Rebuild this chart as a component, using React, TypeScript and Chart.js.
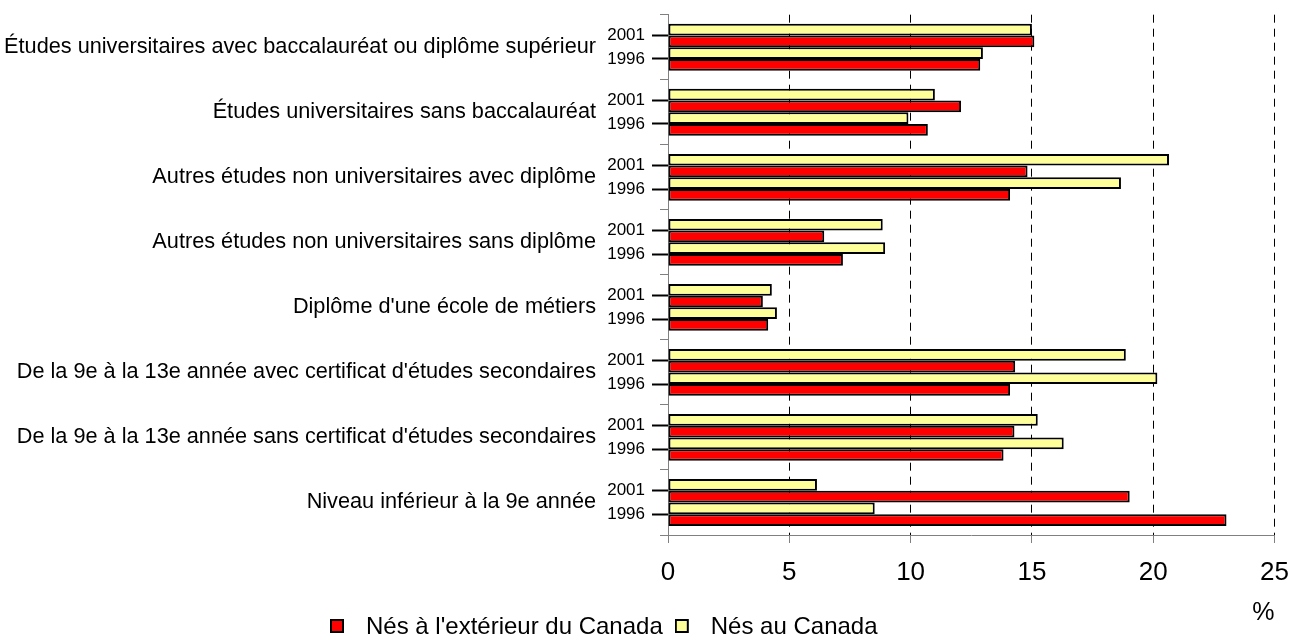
import React, { useEffect, useRef } from 'react';
import { Chart, registerables } from 'chart.js';

Chart.register(...registerables);

const FONT = 'Arial, "Liberation Sans", sans-serif';
Chart.defaults.font.family = FONT;
Chart.defaults.color = '#000';

// ---- data ----
const categories = [
  'Études universitaires avec baccalauréat ou diplôme supérieur',
  'Études universitaires sans baccalauréat',
  'Autres études non universitaires avec diplôme',
  'Autres études non universitaires sans diplôme',
  "Diplôme d'une école de métiers",
  "De la 9e à la 13e année avec certificat d'études secondaires",
  "De la 9e à la 13e année sans certificat d'études secondaires",
  'Niveau inférieur à la 9e année',
];
const years = ['2001', '1996'];
const canada2001 = [15.0, 11.0, 20.65, 8.85, 4.28, 18.87, 15.24, 6.14];
const exterieur2001 = [15.1, 12.08, 14.82, 6.44, 3.91, 14.31, 14.28, 19.03];
const canada1996 = [12.98, 9.91, 18.67, 8.95, 4.49, 20.17, 16.31, 8.52];
const exterieur1996 = [12.87, 10.71, 14.1, 7.21, 4.13, 14.1, 13.83, 23.02];
const legendLabels = ["Nés à l'extérieur du Canada", 'Nés au Canada'];
const xTickStep = 5;
const xMax = 25;
const axisTitle = '%';

// ---- styles ----
const RED = '#FF0000';
const YELLOW = '#FFFF99';
const GROUP = 0.72;

function makeSwatch(fill: string) {
  const c = document.createElement('canvas');
  c.width = 24;
  c.height = 16;
  const g = c.getContext('2d')!;
  g.fillStyle = '#000';
  g.fillRect(0, 0, 14, 14);
  g.fillStyle = fill;
  g.fillRect(2, 2, 10, 10);
  return c;
}

const noPad = (s: any) => {
  s.paddingTop = 0;
  s.paddingBottom = 0;
};

export default function App() {
  const ref = useRef<HTMLCanvasElement>(null);

  useEffect(() => {
    if (!ref.current) return;
    // tick marks: category boundaries and year positions
    const tickMarks: { value: number; kind: string }[] = [];
    categories.forEach((_, i) => {
      tickMarks.push({ value: i - 0.5, kind: 'b' });
      tickMarks.push({ value: i - GROUP / 4, kind: 'y' });
      tickMarks.push({ value: i + GROUP / 4, kind: 'y' });
    });
    tickMarks.push({ value: categories.length - 0.5, kind: 'b' });
    const yearMarks = tickMarks.filter((t) => t.kind === 'y');
    const yearLabels = categories.map(() => years.slice());

    const swRed = makeSwatch(RED);
    const swYellow = makeSwatch(YELLOW);

    const LEGEND_FONT = 24;
    const LEGEND_PAD = 12;
    const legendHeight = LEGEND_FONT + LEGEND_PAD + 10;

    const legendPlacement = {
      id: 'legendPlacement',
      afterLayout(chart: any) {
        const lg = chart.legend;
        if (!lg) return;
        const w = lg.right - lg.left;
        const h = lg.bottom - lg.top;
        lg.left = 330 - LEGEND_PAD;
        lg.right = lg.left + w;
        lg.top = 615 - LEGEND_PAD;
        lg.bottom = lg.top + h;
      },
    };

    const barCommon = {
      borderColor: '#000',
      borderWidth: 2,
      borderSkipped: false,
      categoryPercentage: GROUP,
      barPercentage: 1,
    };

    const tickAxisBase = {
      type: 'linear',
      position: 'left',
      min: -0.5,
      max: categories.length - 0.5,
      reverse: true,
      offset: false,
      bounds: 'data',
      ticks: { display: false, autoSkip: false },
    };

    const chart = new Chart(ref.current, {
      type: 'bar',
      data: {
        labels: categories,
        datasets: [
          { label: legendLabels[1] + ' ' + years[0], data: canada2001, backgroundColor: YELLOW, ...barCommon },
          { label: legendLabels[0] + ' ' + years[0], data: exterieur2001, backgroundColor: RED, ...barCommon },
          { label: legendLabels[1] + ' ' + years[1], data: canada1996, backgroundColor: YELLOW, ...barCommon },
          { label: legendLabels[0] + ' ' + years[1], data: exterieur1996, backgroundColor: RED, ...barCommon },
        ] as any,
      },
      plugins: [legendPlacement],
      options: {
        indexAxis: 'y',
        responsive: false,
        animation: false,
        events: [],
        layout: { padding: { top: 14.7, right: 16, bottom: 9 - legendHeight, left: 0 } },
        plugins: {
          tooltip: { enabled: false },
          title: { display: false },
          legend: {
            display: true,
            position: 'bottom',
            align: 'start',
            labels: {
              font: { size: LEGEND_FONT, family: FONT },
              color: '#000',
              usePointStyle: true,
              pointStyleWidth: 24,
              boxHeight: 14,
              padding: LEGEND_PAD,
              generateLabels: () => [
                { text: legendLabels[0], fillStyle: RED, strokeStyle: '#000', lineWidth: 0, pointStyle: swRed as any, hidden: false, datasetIndex: 1 },
                { text: legendLabels[1], fillStyle: YELLOW, strokeStyle: '#000', lineWidth: 0, pointStyle: swYellow as any, hidden: false, datasetIndex: 0 },
              ] as any,
            },
          },
        },
        scales: {
          x: {
            type: 'linear',
            position: 'bottom',
            min: 0,
            max: xMax,
            afterFit: (s: any) => { s.height = 93; },
            ticks: {
              stepSize: xTickStep,
              padding: 2,
              font: { size: 26, family: FONT, lineHeight: 2.154 },
              color: '#000',
              maxRotation: 0,
            },
            grid: {
              color: (ctx: any) => (ctx.index === 0 ? 'rgba(0,0,0,0)' : '#000'),
              lineWidth: 1,
              drawTicks: true,
              tickLength: 8,
              tickColor: '#808080',
              tickWidth: 1,
              tickBorderDash: [1, 0],
            },
            border: { display: true, color: '#808080', width: 1, dash: [8, 6] },
            title: {
              display: true,
              text: axisTitle,
              align: 'end',
              color: '#000',
              font: { size: 25, family: FONT },
              padding: { top: 0, bottom: 0 },
            },
          },
          y: {
            type: 'category',
            position: 'left',
            weight: 3,
            afterFit: (s: any) => { s.width = 596; noPad(s); },
            ticks: {
              font: { size: 21.7, family: FONT },
              color: '#000',
              padding: 0,
              autoSkip: false,
            },
            grid: { display: false, drawTicks: false },
            border: { display: false },
          },
          yYears: {
            type: 'category',
            position: 'left',
            weight: 2,
            labels: yearLabels,
            offset: true,
            afterFit: (s: any) => { s.width = 56; noPad(s); },
            ticks: {
              autoSkip: false,
              padding: 7,
              font: { size: 17, family: FONT, lineHeight: '23.4px' },
              color: '#000',
            },
            grid: { display: false, drawTicks: false },
            border: { display: false },
          },
          yYearTicks: {
            ...tickAxisBase,
            weight: 1,
            afterBuildTicks: (s: any) => {
              s.ticks = yearMarks.map((t) => ({ value: t.value }));
            },
            afterFit: (s: any) => { s.width = 8; noPad(s); },
            grid: {
              offset: false,
              drawOnChartArea: false,
              drawTicks: true,
              tickLength: 8,
              tickColor: '#000',
              tickWidth: 2,
            },
            border: { display: false },
          },
          yTicks: {
            ...tickAxisBase,
            weight: 0,
            afterBuildTicks: (s: any) => {
              s.ticks = tickMarks.map((t) => ({ value: t.value }));
            },
            afterFit: (s: any) => { s.width = 8; noPad(s); },
            grid: {
              offset: false,
              drawOnChartArea: false,
              drawTicks: true,
              tickLength: 8,
              tickColor: (ctx: any) => (tickMarks[ctx.index]?.kind === 'y' ? '#000' : '#808080'),
              tickWidth: (ctx: any) => (tickMarks[ctx.index]?.kind === 'y' ? 2 : 1),
            },
            border: { display: true, color: '#808080', width: 1 },
          },
        } as any,
      },
    });
    return () => chart.destroy();
  }, []);

  return (
    <div style={{ position: 'absolute', left: 0, top: 0, width: 1291, height: 637 }}>
      <canvas ref={ref} width={1291} height={637} style={{ display: 'block' }} />
    </div>
  );
}
